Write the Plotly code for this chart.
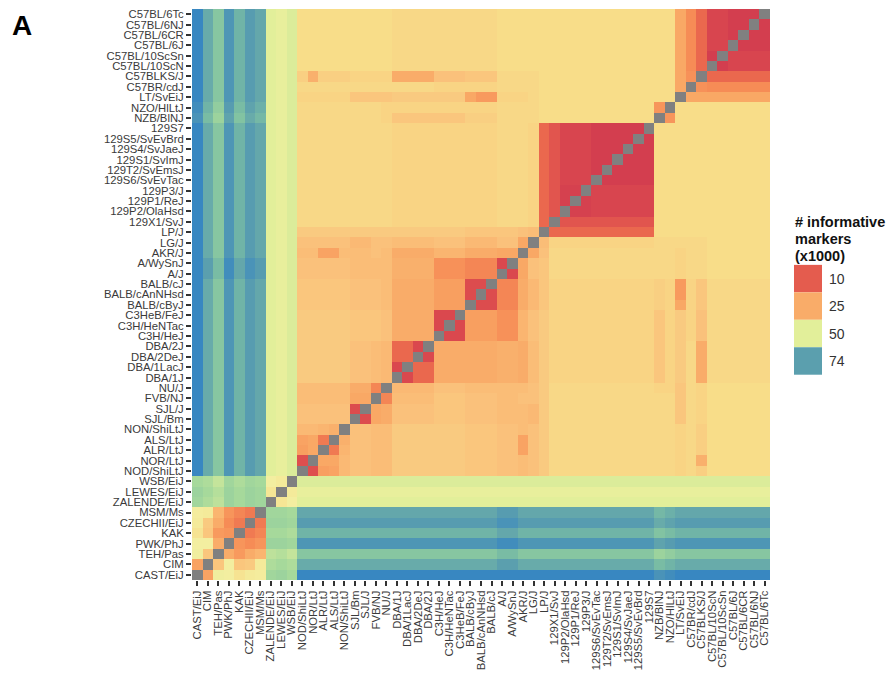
import numpy as np
import plotly.graph_objects as go
from plotly.colors import sample_colorscale

# ---------------- data ----------------
# strain order: bottom -> top on y, left -> right on x
strains = ["CAST/EiJ", "CIM", "TEH/Pas", "PWK/PhJ", "KAK", "CZECHII/EiJ", "MSM/Ms",
           "ZALENDE/EiJ", "LEWES/EiJ", "WSB/EiJ",
           "NOD/ShiLtJ", "NOR/LtJ", "ALR/LtJ", "ALS/LtJ", "NON/ShiLtJ", "SJL/Bm", "SJL/J",
           "FVB/NJ", "NU/J", "DBA/1J", "DBA/1LacJ", "DBA/2DeJ", "DBA/2J", "C3H/HeJ",
           "C3H/HeNTac", "C3HeB/FeJ", "BALB/cByJ", "BALB/cAnNHsd", "BALB/cJ", "A/J",
           "A/WySnJ", "AKR/J", "LG/J", "LP/J", "129X1/SvJ", "129P2/OlaHsd", "129P1/ReJ",
           "129P3/J", "129S6/SvEvTac", "129T2/SvEmsJ", "129S1/SvImJ", "129S4/SvJaeJ",
           "129S5/SvEvBrd", "129S7", "NZB/BlNJ", "NZO/HlLtJ", "LT/SvEiJ", "C57BR/cdJ",
           "C57BLKS/J", "C57BL/10ScN", "C57BL/10ScSn", "C57BL/6J", "C57BL/6CR",
           "C57BL/6NJ", "C57BL/6Tc"]

# wild-derived strains (first 10) among themselves (x1000 informative markers)
wild_matrix = [
    [None, 23, 45, 44, 39, 42, 43, 59, 60, 58],
    [23, None, 31, 44, 31, 32, 42, 57, 58, 57],
    [45, 31, None, 25, 21, 25, 27, 55, 56, 54],
    [44, 44, 25, None, 20, 18, 20, 60, 60, 59],
    [39, 31, 21, 20, None, 15, 17, 58, 58, 57],
    [42, 32, 25, 18, 15, None, 15, 60, 60, 59],
    [43, 42, 27, 20, 17, 15, None, 59, 59, 58],
    [59, 57, 55, 60, 58, 60, 59, None, 40, 44],
    [60, 58, 56, 60, 58, 60, 59, 40, None, 42],
    [58, 57, 54, 59, 57, 59, 58, 44, 42, None],
]
# each wild strain vs classical strains
wild_vs_classical = [82, 71, 64, 77, 69, 75, 72, 50, 48, 51]
classical_shift = {"A/J": 3, "A/WySnJ": 3, "NZB/BlNJ": -4, "NZO/HlLtJ": -2}

# classical groups (sizes follow strain order after the 10 wild strains)
group_names = ["NOD", "SJL", "FVB", "NU", "DBA", "C3H", "BALB", "A", "AKR", "LG", "LP",
               "129", "NZB", "NZO", "LT", "C57BR", "BLKS", "C57"]
group_sizes = [5, 2, 1, 1, 4, 3, 3, 2, 1, 1, 1, 10, 1, 1, 1, 1, 1, 6]
group_table = [
    [22, 30, 29, 29, 32, 32, 31, 30, 29, 30, 32, 35, 35, 35, 34, 35, 33, 36],
    [30, 7, 24, 25, 30, 31, 30, 29, 29, 28, 32, 35, 35, 35, 31, 35, 34, 36],
    [29, 24, 0, 17, 29, 31, 30, 29, 30, 30, 32, 35, 35, 35, 31, 35, 34, 36],
    [29, 25, 17, 0, 28, 30, 29, 29, 29, 30, 32, 35, 34, 34, 31, 35, 34, 36],
    [32, 30, 29, 28, 12, 25, 25, 26, 25, 29, 32, 34, 31, 34, 32, 35, 25, 35],
    [32, 31, 31, 30, 25, 6, 22, 19, 27, 30, 32, 34, 31, 34, 32, 34, 30, 35],
    [31, 30, 30, 29, 25, 22, 7, 17, 25, 28, 31, 34, 33, 34, 22, 34, 31, 35],
    [30, 29, 29, 29, 26, 19, 17, 6, 24, 30, 31, 35, 35, 35, 34, 35, 35, 36],
    [29, 29, 30, 29, 25, 27, 25, 24, 0, 24, 30, 35, 35, 35, 34, 35, 35, 36],
    [30, 28, 30, 30, 29, 30, 28, 30, 24, 0, 29, 34, 35, 35, 35, 35, 35, 36],
    [32, 32, 32, 32, 32, 32, 31, 31, 30, 29, 0, 12, 36, 36, 36, 36, 36, 36],
    [35, 35, 35, 35, 34, 34, 34, 35, 35, 34, 12, 4, 36, 36, 36, 36, 36, 36],
    [35, 35, 35, 34, 31, 31, 33, 35, 35, 35, 36, 36, 0, 20, 36, 36, 36, 36],
    [35, 35, 35, 34, 34, 34, 34, 35, 35, 35, 36, 36, 20, 0, 36, 36, 36, 36],
    [34, 31, 31, 31, 32, 32, 22, 34, 34, 35, 36, 36, 36, 36, 0, 24, 24, 24],
    [35, 35, 35, 35, 35, 34, 34, 35, 35, 35, 36, 36, 36, 36, 24, 0, 19, 18],
    [33, 34, 34, 34, 25, 30, 31, 35, 35, 35, 36, 36, 36, 36, 24, 19, 0, 12],
    [36, 36, 36, 36, 35, 35, 35, 36, 36, 36, 36, 36, 36, 36, 24, 18, 12, 4],
]
# pairwise refinements: (strain set A, strain set B, value)
pair_values = [
    (["NOD/ShiLtJ"], ["NOR/LtJ"], 8),
    (["NOD/ShiLtJ"], ["ALR/LtJ"], 22),
    (["NOD/ShiLtJ"], ["ALS/LtJ"], 23),
    (["NOD/ShiLtJ", "NOR/LtJ"], ["NON/ShiLtJ"], 28),
    (["NOR/LtJ"], ["ALR/LtJ", "ALS/LtJ"], 24),
    (["ALR/LtJ"], ["ALS/LtJ"], 15),
    (["ALR/LtJ"], ["NON/ShiLtJ"], 27),
    (["ALS/LtJ"], ["NON/ShiLtJ"], 26),
    (["DBA/1J"], ["DBA/1LacJ"], 6),
    (["DBA/2DeJ"], ["DBA/2J"], 6),
    (["129X1/SvJ"], ["129P2/OlaHsd", "129P1/ReJ", "129P3/J", "129S6/SvEvTac", "129T2/SvEmsJ",
                     "129S1/SvImJ", "129S4/SvJaeJ", "129S5/SvEvBrd", "129S7"], 9),
    (["129P2/OlaHsd", "129P1/ReJ", "129P3/J"],
     ["129S6/SvEvTac", "129T2/SvEmsJ", "129S1/SvImJ", "129S4/SvJaeJ", "129S5/SvEvBrd", "129S7"], 5),
    (["129S6/SvEvTac", "129T2/SvEmsJ", "129S1/SvImJ", "129S4/SvJaeJ", "129S5/SvEvBrd", "129S7"],
     ["129S6/SvEvTac", "129T2/SvEmsJ", "129S1/SvImJ", "129S4/SvJaeJ", "129S5/SvEvBrd", "129S7"], 3),
    (["C57BL/10ScN"], ["C57BL/10ScSn"], 3),
    (["C57BL/6J", "C57BL/6CR", "C57BL/6NJ", "C57BL/6Tc"],
     ["C57BL/6J", "C57BL/6CR", "C57BL/6NJ", "C57BL/6Tc"], 3),
    (["C57BL/10ScN", "C57BL/10ScSn"], ["C57BL/6J", "C57BL/6CR", "C57BL/6NJ", "C57BL/6Tc"], 5),
    (["NOR/LtJ"], ["C57BLKS/J"], 26),
    (["LT/SvEiJ"], ["BALB/cByJ"], 24),
    (["LT/SvEiJ"], ["BALB/cAnNHsd", "BALB/cJ"], 21),
    (["ALR/LtJ", "ALS/LtJ"], ["AKR/J"], 23),
]

legend_values = [10, 25, 50, 74]
scale_values = [2, 8, 12, 18, 24, 30, 36, 44, 50, 58, 66, 74, 82]
scale_colors = ["#D13A4F", "#DE4F4E", "#EA684E", "#F68C56", "#F9A865", "#FAC17B", "#F8DD89",
                "#F3EEA0", "#E2EF9A", "#A6D99B", "#7DC0A3", "#5B9FAE", "#3887C1"]

# ---------------- build matrix ----------------
n = len(strains)
idx = {s: i for i, s in enumerate(strains)}
Z = np.full((n, n), np.nan)
nw = len(wild_matrix)
for i in range(nw):
    for j in range(nw):
        if wild_matrix[i][j] is not None:
            Z[i, j] = wild_matrix[i][j]
classical = strains[nw:]
for i in range(nw):
    for k, name in enumerate(classical):
        v = wild_vs_classical[i] + (classical_shift.get(name, 0) if i < 7 else 0)
        Z[i, nw + k] = Z[nw + k, i] = v
gidx = [g for g, sz in enumerate(group_sizes) for _ in range(sz)]
for a in range(len(classical)):
    for b in range(len(classical)):
        if a != b:
            ga, gb = sorted((gidx[a], gidx[b]))
            Z[nw + a, nw + b] = group_table[ga][gb]
for A, B, v in pair_values:
    for s in A:
        for t in B:
            if s != t:
                Z[idx[s], idx[t]] = Z[idx[t], idx[s]] = v
for i in range(n):
    Z[i, i] = np.nan

zmin, zmax = scale_values[0], scale_values[-1]
colorscale = [[(v - zmin) / (zmax - zmin), c] for v, c in zip(scale_values, scale_colors)]
diag = np.full((n, n), np.nan)
for i in range(n):
    diag[i, i] = 1

fig = go.Figure()
fig.add_trace(go.Heatmap(z=Z, x=strains, y=strains, colorscale=colorscale, zmin=zmin, zmax=zmax,
                         showscale=False, hoverinfo="skip"))
fig.add_trace(go.Heatmap(z=diag, x=strains, y=strains,
                         colorscale=[[0, "#808080"], [1, "#808080"]],
                         showscale=False, hoverinfo="skip"))

W, H = 894, 678
L, R, T, B = 192, 124, 8, 92
pw, ph = W - L - R, H - T - B


def px(x):
    return (x - L) / pw


def py(y):
    return (H - B - y) / ph


axis_common = dict(type="category", categoryorder="array", categoryarray=strains,
                   tickmode="array", tickvals=strains, ticktext=strains,
                   showgrid=False, zeroline=False, showline=False, ticks="outside",
                   ticklen=5, tickwidth=1.8, tickcolor="#333333",
                   tickfont=dict(family="Liberation Sans, Arial, sans-serif", size=11.3,
                                 color="#3a3a3a"))
fig.update_xaxes(**axis_common, tickangle=-90)
fig.update_yaxes(**axis_common)

# legend built as swatches
sw_colors = sample_colorscale(colorscale, [(v - zmin) / (zmax - zmin) for v in legend_values])
shapes = []
annotations = []
sw_top, sw_h = 267, 27.8
for k, (v, c) in enumerate(zip(legend_values, sw_colors)):
    y0 = sw_top + k * sw_h
    shapes.append(dict(type="rect", xref="paper", yref="paper", x0=px(794), x1=px(822),
                       y0=py(y0 + sw_h), y1=py(y0), fillcolor=c, line=dict(width=0),
                       layer="above"))
    annotations.append(dict(xref="paper", yref="paper", x=px(827), y=py(y0 + sw_h / 2),
                            text=str(v), showarrow=False, xanchor="left", yanchor="middle",
                            font=dict(family="Liberation Sans, Arial, sans-serif", size=14,
                                      color="#333333")))
for k, line in enumerate(["# informative", "markers", "(x1000)"]):
    annotations.append(dict(xref="paper", yref="paper", x=px(793), y=py(213 + k * 17.5),
                            text="<b>" + line + "</b>", showarrow=False, xanchor="left",
                            yanchor="top",
                            font=dict(family="Liberation Sans, Arial, sans-serif", size=14.5,
                                      color="#111111")))
annotations.append(dict(xref="paper", yref="paper", x=px(10), y=py(7), text="<b>A</b>",
                        showarrow=False, xanchor="left", yanchor="top",
                        font=dict(family="Liberation Sans, Arial, sans-serif", size=28,
                                  color="#000000")))

fig.update_layout(width=W, height=H, margin=dict(l=L, r=R, t=T, b=B, pad=0),
                  paper_bgcolor="white", plot_bgcolor="white",
                  shapes=shapes, annotations=annotations, showlegend=False)

fig.write_html("out.html")
